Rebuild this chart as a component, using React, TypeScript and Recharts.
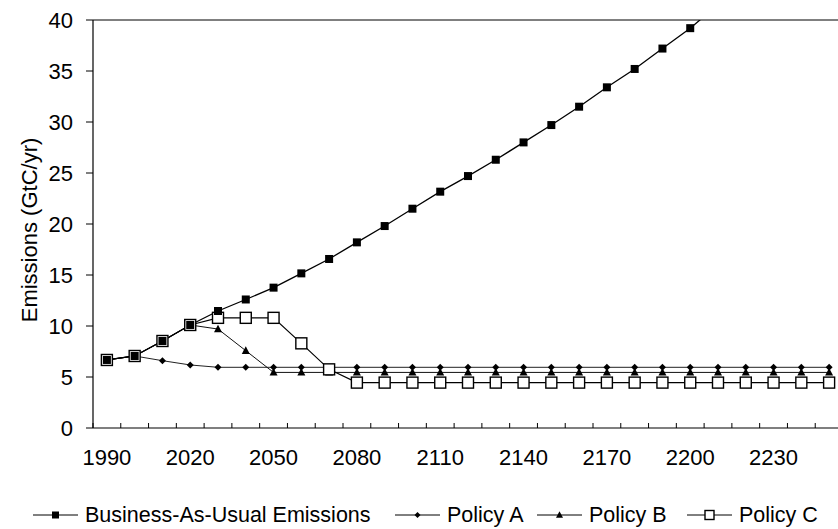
import React from 'react';
import { LineChart, Line, XAxis, YAxis, ReferenceLine, Label } from 'recharts';

const years = [1990, 2000, 2010, 2020, 2030, 2040, 2050, 2060, 2070, 2080, 2090, 2100, 2110, 2120, 2130, 2140, 2150, 2160, 2170, 2180, 2190, 2200, 2210, 2220, 2230, 2240, 2250];
const bau = [6.67, 7.06, 8.53, 10.1, 11.47, 12.6, 13.76, 15.16, 16.57, 18.2, 19.8, 21.5, 23.17, 24.7, 26.3, 28.0, 29.7, 31.5, 33.4, 35.2, 37.2, 39.2, 41.5, null, null, null, null];
const policyA = [6.67, 7.06, 6.6, 6.18, 5.95, 5.95, 5.95, 5.95, 5.95, 5.95, 5.95, 5.95, 5.95, 5.95, 5.95, 5.95, 5.95, 5.95, 5.95, 5.95, 5.95, 5.95, 5.95, 5.95, 5.95, 5.95, 5.95];
const policyB = [6.67, 7.06, 8.53, 10.1, 9.7, 7.58, 5.45, 5.45, 5.45, 5.45, 5.45, 5.45, 5.45, 5.45, 5.45, 5.45, 5.45, 5.45, 5.45, 5.45, 5.45, 5.45, 5.45, 5.45, 5.45, 5.45, 5.45];
const policyC = [6.67, 7.06, 8.53, 10.1, 10.8, 10.8, 10.8, 8.3, 5.75, 4.45, 4.45, 4.45, 4.45, 4.45, 4.45, 4.45, 4.45, 4.45, 4.45, 4.45, 4.45, 4.45, 4.45, 4.45, 4.45, 4.45, 4.45];

const seriesNames = ['Business-As-Usual Emissions', 'Policy A', 'Policy B', 'Policy C'];
const seriesKeys = ['bau', 'a', 'b', 'c'];
const yTicks = [0, 5, 10, 15, 20, 25, 30, 35, 40];
const xTickLabels = [1990, 2020, 2050, 2080, 2110, 2140, 2170, 2200, 2230];
const xBoundaryTicks = [1985, 1995, 2005, 2015, 2025, 2035, 2045, 2055, 2065, 2075, 2085, 2095, 2105, 2115, 2125, 2135, 2145, 2155, 2165, 2175, 2185, 2195, 2205, 2215, 2225, 2235, 2245, 2255];
const yLabel = 'Emissions (GtC/yr)';

const data = years.map((year, i) => ({ year, bau: bau[i], a: policyA[i], b: policyB[i], c: policyC[i] }));

const FONT = '"Liberation Sans", Arial, Helvetica, sans-serif';
const legendLefts = [33, 395, 537, 687];

const shape = (kind: string, cx: number, cy: number, s: number, key?: any) => {
  if (kind === 'bau') return <rect key={key} x={cx - s} y={cy - s} width={2 * s} height={2 * s} fill="#000" />;
  if (kind === 'a') return <polygon key={key} points={`${cx},${cy - s} ${cx + s},${cy} ${cx},${cy + s} ${cx - s},${cy}`} fill="#000" />;
  if (kind === 'b') return <polygon key={key} points={`${cx},${cy - s * 1.1} ${cx + s},${cy + s * 0.8} ${cx - s},${cy + s * 0.8}`} fill="#000" />;
  return <rect key={key} x={cx - s} y={cy - s} width={2 * s} height={2 * s} fill="#fff" stroke="#000" strokeWidth={1.4} />;
};

const makeDot = (kind: string, s: number) => (props: any) => {
  const { cx, cy, value, index } = props;
  if (cx == null || cy == null || value == null || Number.isNaN(cy)) return <g key={`${kind}-${index}`} />;
  return shape(kind, cx, cy, s, `${kind}-${index}`);
};

const XTick = (props: any) => {
  const { x, y, payload } = props;
  const v = payload.value;
  if (xTickLabels.includes(v)) {
    return (
      <text x={x} y={y + 37} textAnchor="middle" fontSize={22} fontFamily={FONT} fill="#000">
        {v}
      </text>
    );
  }
  return <line x1={x} x2={x} y1={y} y2={y - 5} stroke="#000" strokeWidth={1} />;
};

const YLabel = (props: any) => {
  const vb = props.viewBox || { x: 0, y: 20, width: 93, height: 408 };
  const cx = 29;
  const cy = vb.y + vb.height / 2 + 6;
  return (
    <text x={cx} y={cy} transform={`rotate(-90, ${cx}, ${cy})`} textAnchor="middle" dominantBaseline="central" fontSize={22} fontFamily={FONT} fill="#000">
      {yLabel}
    </text>
  );
};

const markerSize: Record<string, number> = { bau: 3.5, a: 3, b: 3.5, c: 4.5 };

export default function App() {
  return (
    <div style={{ position: 'absolute', left: 0, top: 0, width: 838, height: 529, overflow: 'hidden', background: '#fff', fontFamily: FONT }}>
      <LineChart width={850} height={529} data={data} margin={{ top: 20, right: 7, bottom: 61, left: 0 }}>
        <XAxis
          dataKey="year"
          type="number"
          domain={[1985, 2255]}
          ticks={[...xBoundaryTicks, ...xTickLabels]}
          interval={0}
          tick={<XTick />}
          tickLine={false}
          tickSize={0}
          tickMargin={0}
          height={40}
          axisLine={{ stroke: '#000', strokeWidth: 1.2 }}
          allowDataOverflow
        />
        <YAxis
          type="number"
          domain={[0, 40]}
          ticks={yTicks}
          allowDataOverflow
          width={93}
          tickSize={7}
          tickMargin={13}
          tick={{ fontSize: 22, fontFamily: FONT, fill: '#000' }}
          axisLine={{ stroke: '#000', strokeWidth: 1.2 }}
          tickLine={{ stroke: '#000' }}
        >
          <Label content={<YLabel />} />
        </YAxis>
        <ReferenceLine y={40} stroke="#000" strokeWidth={1} />
        <Line dataKey="a" stroke="#222" strokeWidth={1} dot={makeDot('a', 3.5)} activeDot={false} isAnimationActive={false} />
        <Line dataKey="b" stroke="#111" strokeWidth={1} dot={makeDot('b', 4)} activeDot={false} isAnimationActive={false} />
        <Line dataKey="c" stroke="#000" strokeWidth={1.2} dot={makeDot('c', 5.5)} activeDot={false} isAnimationActive={false} />
        <Line dataKey="bau" stroke="#000" strokeWidth={1.3} dot={makeDot('bau', 4)} activeDot={false} isAnimationActive={false} />
      </LineChart>
      {seriesNames.map((name, i) => (
        <div
          key={name}
          style={{ position: 'absolute', left: legendLefts[i], top: 503, display: 'flex', alignItems: 'center', fontSize: 21.5, lineHeight: '24px', whiteSpace: 'nowrap', color: '#000' }}
        >
          <svg width={45} height={14} style={{ marginRight: 7 }}>
            <line x1={0} x2={45} y1={7} y2={7} stroke="#000" strokeWidth={1} />
            {shape(seriesKeys[i], 22.5, 7, markerSize[seriesKeys[i]])}
          </svg>
          <span>{name}</span>
        </div>
      ))}
    </div>
  );
}
